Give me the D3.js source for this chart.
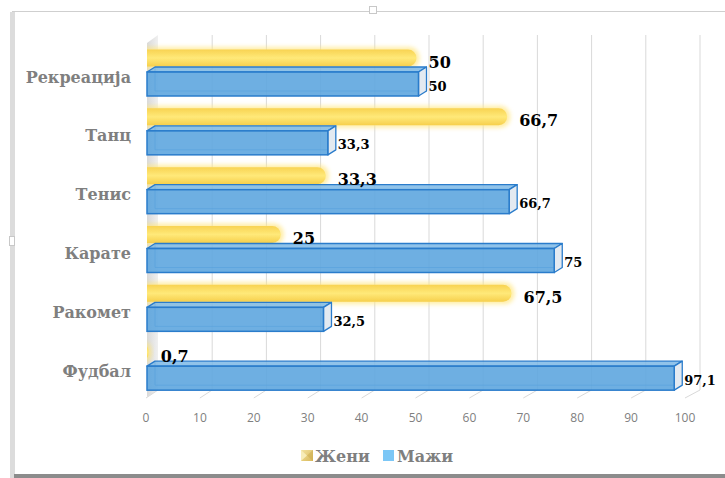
<!DOCTYPE html>
<html>
<head>
<meta charset="utf-8">
<script src="https://cdn.jsdelivr.net/npm/d3@7"></script>
<style>
html,body{margin:0;padding:0;background:#fff;}
svg{display:block;}
</style>
</head>
<body>
<svg id="chart" width="725" height="478"></svg>
<script>
const categories = ["Рекреација","Танц","Тенис","Карате","Ракомет","Фудбал"];
const zeni = [50, 66.7, 33.3, 25, 67.5, 0.7];
const mazi = [50, 33.3, 66.7, 75, 32.5, 97.1];
const tickValues = [0,10,20,30,40,50,60,70,80,90,100];
const seriesNames = ["Жени","Мажи"];

const svg = d3.select("#chart");
const fmt = v => String(v).replace(".", ",");

// scales
const xBar = d3.scaleLinear().domain([0,100]).range([147,690]);
const xFront = d3.scaleLinear().domain([0,100]).range([146,685]);
const xBack = d3.scaleLinear().domain([0,100]).range([158,700]);
const y = d3.scaleBand().domain(categories).range([40,393]).paddingInner(0);
const DX = 8, DY = -5;

const defs = svg.append("defs");
const yg = defs.append("linearGradient").attr("id","yg").attr("x1",0).attr("y1",0).attr("x2",0).attr("y2",1);
yg.append("stop").attr("offset","0%").attr("stop-color","#f8d352");
yg.append("stop").attr("offset","50%").attr("stop-color","#ffe979");
yg.append("stop").attr("offset","100%").attr("stop-color","#f6cf4c");
const wg = defs.append("linearGradient").attr("id","wg").attr("x1",0).attr("y1",0).attr("x2",1).attr("y2",0);
wg.append("stop").attr("offset","0%").attr("stop-color","#d9d9d9");
wg.append("stop").attr("offset","100%").attr("stop-color","#f0f0f0");
const blur = defs.append("filter").attr("id","glow").attr("x","-10%").attr("y","-60%").attr("width","120%").attr("height","220%");
blur.append("feGaussianBlur").attr("stdDeviation",2);
const soft = defs.append("filter").attr("id","soft").attr("x","-5%").attr("y","-30%").attr("width","110%").attr("height","160%");
soft.append("feGaussianBlur").attr("stdDeviation",0.5);
defs.append("clipPath").attr("id","wallclip").append("rect").attr("x",147).attr("y",0).attr("width",600).attr("height",478);
const lg = defs.append("linearGradient").attr("id","lg").attr("x1",0).attr("y1",0).attr("x2",1).attr("y2",1);
lg.append("stop").attr("offset","0%").attr("stop-color","#f3e2a0");
lg.append("stop").attr("offset","100%").attr("stop-color","#d9b95a");

// frame
svg.append("rect").attr("x",0).attr("y",0).attr("width",725).attr("height",478).attr("fill","#fff");
svg.append("line").attr("x1",12).attr("x2",725).attr("y1",11.5).attr("y2",11.5).attr("stroke","#cfcfcf").attr("stroke-width",1.2);
svg.append("rect").attr("x",10).attr("y",12).attr("width",5).attr("height",466).attr("fill","#dcdcdc");
svg.append("rect").attr("x",14).attr("y",474).attr("width",711).attr("height",4).attr("fill","#8c8c8c");
svg.append("rect").attr("x",369.5).attr("y",6.5).attr("width",7).attr("height",7).attr("fill","#fff").attr("stroke","#c8c8c8");
svg.append("rect").attr("x",9.5).attr("y",236.5).attr("width",5).attr("height",9).attr("fill","#fff").attr("stroke","#c8c8c8");

// side wall
svg.append("polygon")
  .attr("points", [[147,43],[158,35],[158,390],[147,397]].map(p=>p.join(",")).join(" "))
  .attr("fill","url(#wg)");

// gridlines (back wall) and floor diagonals
const grid = svg.append("g");
grid.selectAll("line.g").data(tickValues.slice(1)).join("line")
  .attr("x1", d=>xBack(d)).attr("x2", d=>xBack(d))
  .attr("y1", 35).attr("y2", 390)
  .attr("stroke","#d9d9d9").attr("stroke-width",1);
grid.selectAll("line.f").data(tickValues).join("line")
  .attr("x1", d=>xBack(d)).attr("y1", 390)
  .attr("x2", d=>xFront(d)).attr("y2", 398)
  .attr("stroke","#d9d9d9").attr("stroke-width",1);

// axis tick labels
svg.append("g").selectAll("text").data(tickValues).join("text")
  .attr("x", d=>xFront(d)).attr("y", 422)
  .attr("text-anchor","middle")
  .attr("font-family","'Open Sans', 'Liberation Sans', sans-serif")
  .attr("font-size",12).attr("fill","#808080")
  .text(d=>d);

// category labels
svg.append("g").selectAll("text").data(categories).join("text")
  .attr("x", 131).attr("y", d=>y(d)+37)
  .attr("dy","0.35em")
  .attr("text-anchor","end")
  .attr("font-family","'DejaVu Serif', serif")
  .attr("font-weight","bold")
  .attr("font-size",16).attr("fill","#7f7f7f")
  .text(d=>d);

// bars
const groups = svg.append("g").selectAll("g").data(categories).join("g");

groups.each(function(cat, i){
  const g = d3.select(this);
  const top = y(cat);
  // yellow cylinder-like bar
  const yTop = top + 8, yH = 20;
  const x0 = xBar(0) - 12, x1 = xBar(zeni[i]);
  const yb = g.append("g").attr("clip-path","url(#wallclip)");
  yb.append("rect").attr("x", x0).attr("y", yTop-1).attr("width", Math.max(x1-x0+1,0)).attr("height", yH+2)
    .attr("rx", 10).attr("fill","#ffe680").attr("opacity",0.7).attr("filter","url(#glow)");
  yb.append("rect").attr("x", x0).attr("y", yTop+1.5).attr("width", Math.max(x1-x0-2,0)).attr("height", yH-3)
    .attr("rx", 8.5).attr("fill","url(#yg)").attr("filter","url(#soft)");

  // blue 3D box
  const bx0 = xBar(0), bx1 = xBar(mazi[i]);
  const fy0 = top + 32, fy1 = top + 56;
  const col = "#2a7ccb";
  // back edges (visible through transparency)
  g.append("line").attr("x1", bx0+DX).attr("y1", fy0+DY).attr("x2", bx0+DX).attr("y2", fy1+DY)
    .attr("stroke",col).attr("stroke-width",1).attr("opacity",0.7);
  g.append("line").attr("x1", bx0+DX).attr("y1", fy1+DY).attr("x2", bx1+DX).attr("y2", fy1+DY)
    .attr("stroke",col).attr("stroke-width",1).attr("opacity",0.7);
  // top face
  g.append("polygon")
    .attr("points", [[bx0,fy0],[bx0+DX,fy0+DY],[bx1+DX,fy0+DY],[bx1,fy0]].map(p=>p.join(",")).join(" "))
    .attr("fill","#7db9e6").attr("fill-opacity",0.85).attr("stroke",col).attr("stroke-width",1.3).attr("stroke-linejoin","round");
  // right end face
  g.append("polygon")
    .attr("points", [[bx1,fy0],[bx1+DX,fy0+DY],[bx1+DX,fy1+DY],[bx1,fy1]].map(p=>p.join(",")).join(" "))
    .attr("fill","#e3eaf1").attr("stroke",col).attr("stroke-width",1.3).attr("stroke-linejoin","round");
  // front face
  g.append("rect").attr("x", bx0).attr("y", fy0).attr("width", bx1-bx0).attr("height", fy1-fy0)
    .attr("fill","#5ea6df").attr("fill-opacity",0.9).attr("stroke",col).attr("stroke-width",1.5);

  // labels
  g.append("text").attr("x", x1+10).attr("y", yTop + yH/2 + 4).attr("dy","0.35em")
    .attr("font-family","'DejaVu Serif', serif").attr("font-weight","bold")
    .attr("font-size",16).attr("fill","#000").text(fmt(zeni[i]));
  g.append("text").attr("x", bx1+10).attr("y", (fy0+fy1)/2 + 2).attr("dy","0.35em")
    .attr("font-family","'DejaVu Serif', serif").attr("font-weight","bold")
    .attr("font-size",13).attr("fill","#000").text(fmt(mazi[i]));
});

// legend
const leg = svg.append("g");
leg.append("rect").attr("x",301).attr("y",450).attr("width",12).attr("height",11).attr("fill","url(#lg)");
leg.append("polygon").attr("points","301,450 307,455.5 301,461").attr("fill","#f7ecb8");
leg.append("polygon").attr("points","313,450 307,455.5 313,461").attr("fill","#c9a94c").attr("opacity",0.5);
leg.append("text").attr("x",315).attr("y",456).attr("dy","0.35em")
  .attr("font-family","'DejaVu Serif', serif").attr("font-weight","bold").attr("font-size",16).attr("fill","#7f7f7f")
  .text(seriesNames[0]);
leg.append("rect").attr("x",383).attr("y",450).attr("width",11).attr("height",11).attr("fill","#7cc7f6");
leg.append("text").attr("x",397).attr("y",456).attr("dy","0.35em")
  .attr("font-family","'DejaVu Serif', serif").attr("font-weight","bold").attr("font-size",16).attr("fill","#7f7f7f")
  .text(seriesNames[1]);
</script>
</body>
</html>
